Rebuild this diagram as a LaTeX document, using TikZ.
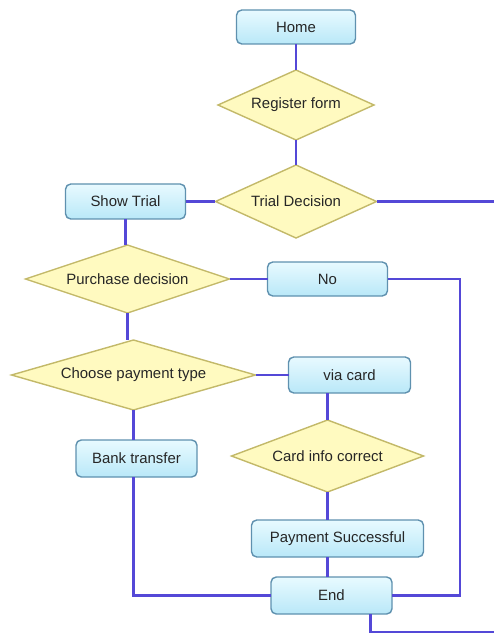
\documentclass[tikz,border=0pt]{standalone}
\usepackage{fontspec}
\setmainfont{Liberation Sans}
\usepackage{tikz}
\usetikzlibrary{shapes.geometric,positioning,calc}

\definecolor{boxline}{RGB}{95,145,175}
\definecolor{boxtop}{RGB}{232,250,255}
\definecolor{boxbot}{RGB}{185,232,248}
\definecolor{decline}{RGB}{195,185,105}
\definecolor{decfill}{RGB}{255,250,192}
\definecolor{flowline}{RGB}{84,72,215}

\begin{document}
\begin{tikzpicture}[
    font=\fontsize{8.5}{10}\selectfont,
    screen/.style={rectangle, rounded corners=3pt, draw=boxline, thick, top color=boxtop, bottom color=boxbot, text=black!85, inner sep=1pt, outer sep=0pt},
    decision/.style={diamond, draw=decline, thick, fill=decfill, text=black!85, inner sep=0pt, outer sep=0pt, aspect=3.5},
    link/.style={draw=flowline, line width=1.4pt}
]
\useasboundingbox (0,0) rectangle (9.88,-12.68);

% Top of the flow
\node[screen, minimum width=2.38cm, minimum height=0.68cm] (home) at (5.92,-0.54) {Home};
\node[decision, below=0.52cm of home, minimum width=3.12cm, minimum height=1.4cm] (register) {Register form};
\node[decision, below=0.5cm of register, minimum width=3.22cm, minimum height=1.46cm] (trial) {Trial Decision};
\node[screen, left=0.6cm of trial, minimum width=2.4cm, minimum height=0.7cm] (showtrial) {Show Trial};

% Purchase
\node[decision, below=0.52cm of showtrial, xshift=0.04cm, minimum width=4.08cm, minimum height=1.36cm] (purchase) {Purchase decision};
\node[screen, right=0.76cm of purchase, minimum width=2.4cm, minimum height=0.68cm] (no) {No};

% Payment type
\node[decision, below=0.54cm of purchase, xshift=0.12cm, minimum width=4.88cm, minimum height=1.4cm] (choose) {Choose payment type};
\node[screen, right=0.66cm of choose, minimum width=2.44cm, minimum height=0.72cm] (card) {via card};
\node[screen, below=0.6cm of choose, xshift=0.06cm, minimum width=2.42cm, minimum height=0.74cm] (bank) {Bank transfer};
\node[decision, below=0.54cm of card, xshift=-0.44cm, minimum width=3.84cm, minimum height=1.44cm] (cardinfo) {Card info correct};
\node[screen, below=0.56cm of cardinfo, xshift=0.2cm, minimum width=3.44cm, minimum height=0.74cm] (paid) {Payment Successful};
\node[screen, below=0.4cm of paid, xshift=-0.12cm, minimum width=2.42cm, minimum height=0.74cm] (end) {End};

% Loose ends at the border
\coordinate (trialout) at (9.88,0 |- trial.east);
\coordinate (noturn) at (9.2,0 |- no.east);
\coordinate (endout) at ($(end.south)+(0.78,0)$);
\coordinate (bottomout) at (9.88,-12.64);
\coordinate (endcorner) at (endout |- bottomout);

% Connections
\draw[link] (home) -- (register);
\draw[link] (register) -- (trial);
\draw[link] (trial) -- (showtrial);
\draw[link] (trial.east) -- (trialout);
\draw[link] (showtrial.south) -- (showtrial.south |- purchase.north);
\draw[link] (purchase) -- (no);
\draw[link] (no.east) -- (noturn) |- (end.east);
\draw[link] (purchase.south) -- (purchase.south |- choose.north);
\draw[link] (choose) -- (card);
\draw[link] (choose.south) -- (choose.south |- bank.north);
\draw[link] (bank.south -| choose.south) |- (end.west);
\draw[link] (card.south -| cardinfo.north) -- (cardinfo.north);
\draw[link] (cardinfo.south) -- (cardinfo.south |- paid.north);
\draw[link] (paid.south -| cardinfo.south) -- (cardinfo.south |- end.north);
\draw[link] (endout) -- (endcorner) -- (bottomout);

\end{tikzpicture}
\end{document}
